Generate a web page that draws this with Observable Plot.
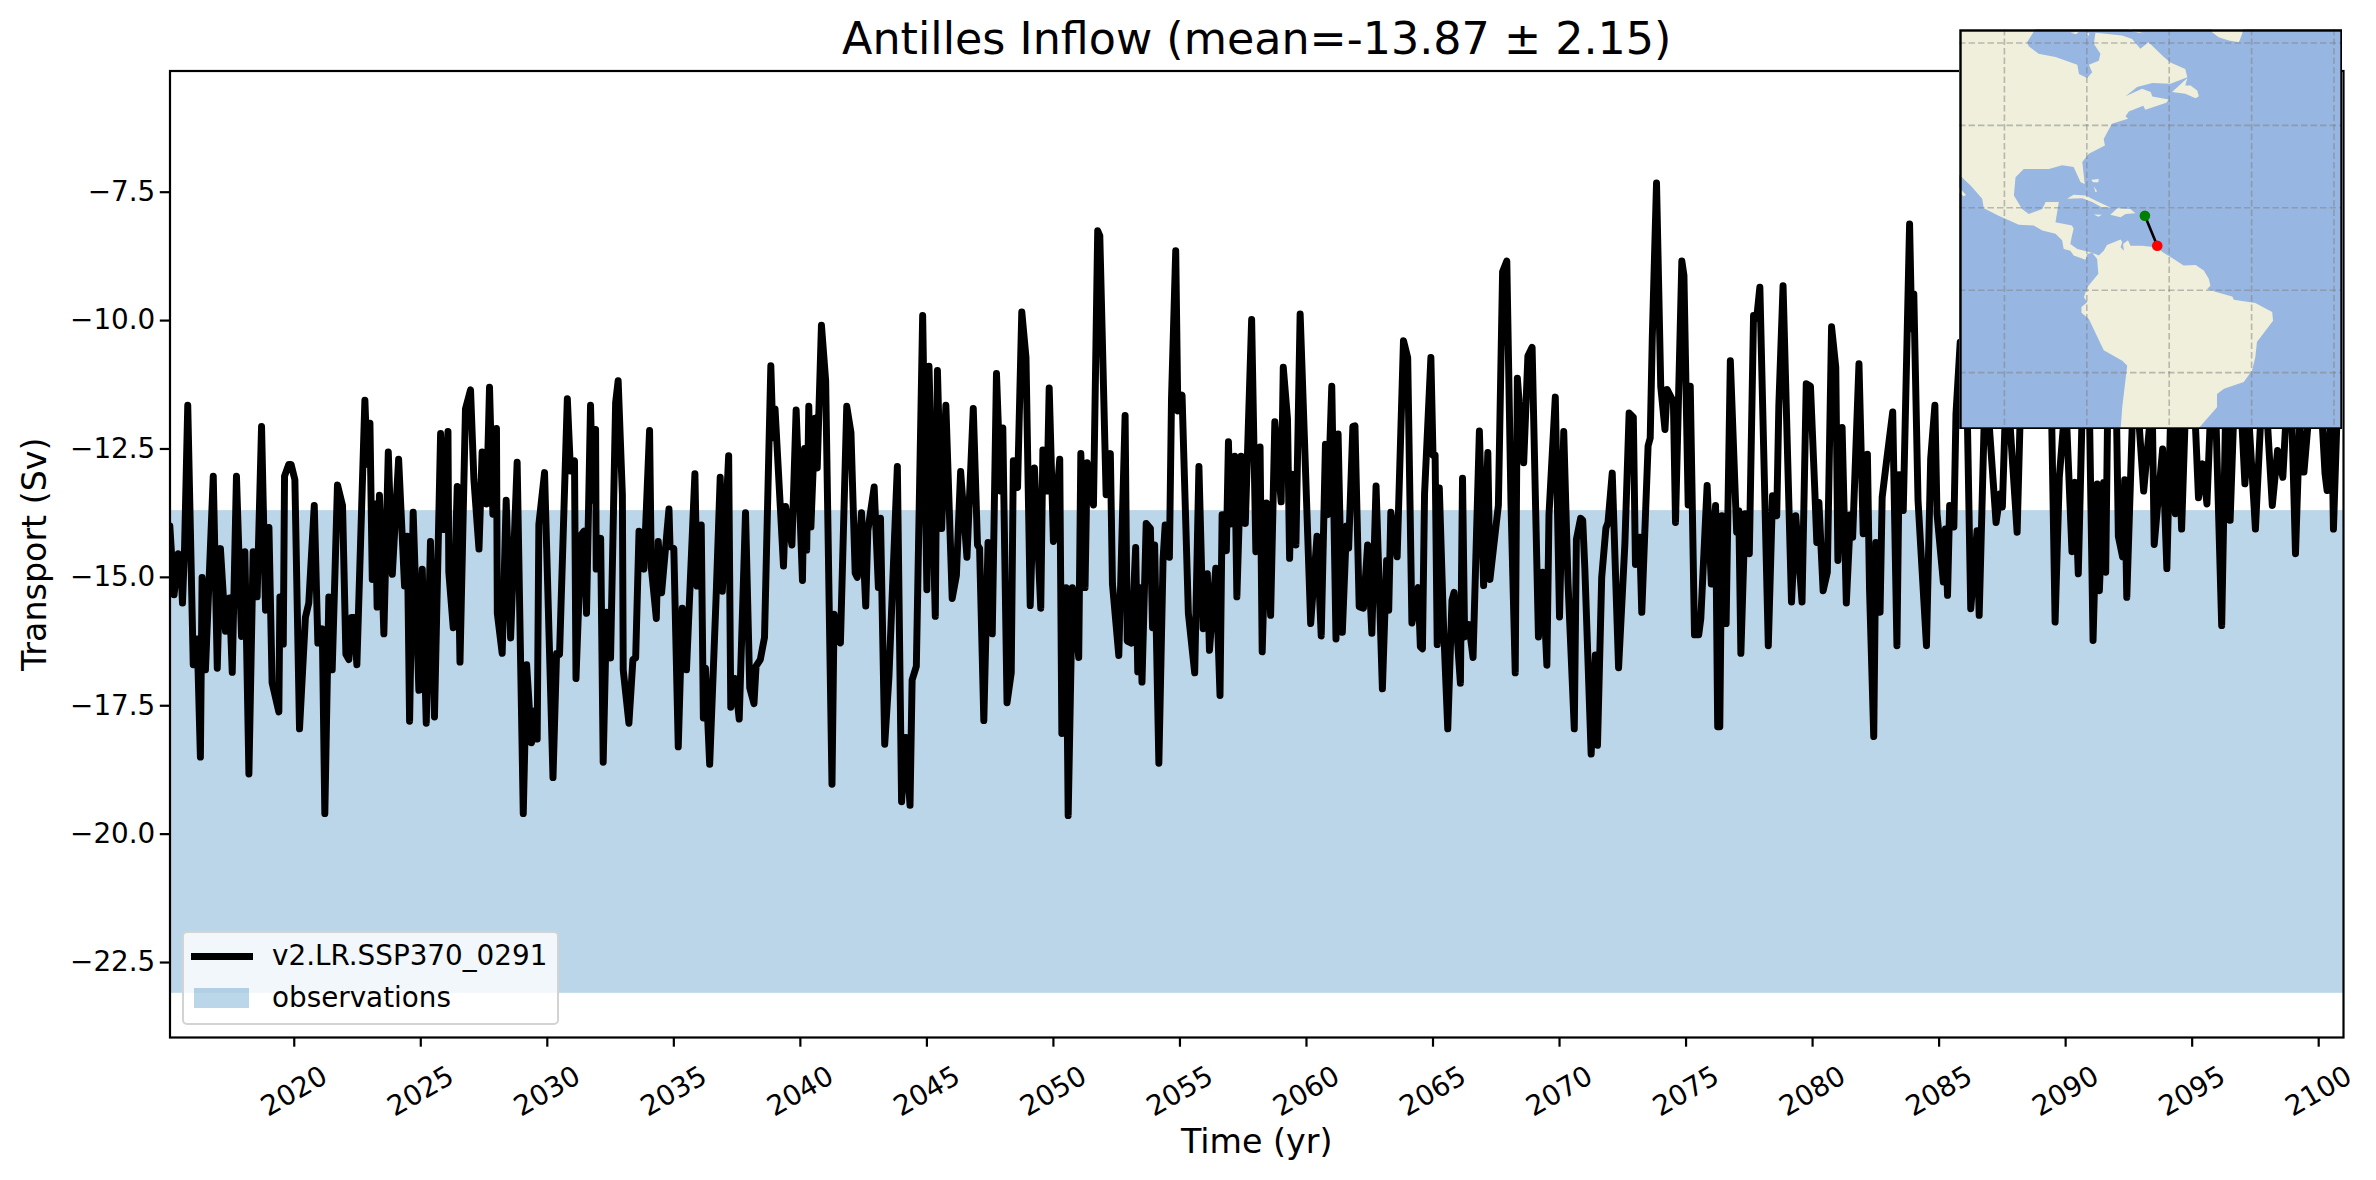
<!DOCTYPE html>
<html><head><meta charset="utf-8">
<script src="https://cdn.jsdelivr.net/npm/d3@7"></script>
<script src="https://cdn.jsdelivr.net/npm/@observablehq/plot@0.6"></script>
<style>
html,body{margin:0;padding:0;background:#fff;overflow:hidden}
#stage{position:relative;width:2376px;height:1180px;font-family:"DejaVu Sans",sans-serif;color:#000}
#stage>div.plot{position:absolute}
#main{left:0;top:0}
#inset{left:1959px;top:29px}
#legend{position:absolute;left:182px;top:931px;width:373px;height:90px;background:rgba(255,255,255,.8);border:2px solid #d3d3d3;border-radius:5px;font-size:27.8px;line-height:1}
#legend .l{position:absolute;left:7px;top:20px;width:62px;height:7px;background:#000}
#legend .p{position:absolute;left:10px;top:55px;width:55px;height:20px;background:#1f77b4;opacity:.3}
#legend .t1{position:absolute;left:88px;top:9px;white-space:nowrap}
#legend .t2{position:absolute;left:88px;top:51px;white-space:nowrap}
</style></head><body>
<div id="stage">
  <div class="plot" id="main"></div>
  <div id="legend"><div class="l"></div><div class="p"></div><div class="t1">v2.LR.SSP370_0291</div><div class="t2">observations</div></div>
  <div class="plot" id="inset"></div>
</div>
<script>
const titleText = "Antilles Inflow (mean=-13.87 ± 2.15)";
const xLabel = "Time (yr)";
const yLabel = "Transport (Sv)";
const xTicks = [2020,2025,2030,2035,2040,2045,2050,2055,2060,2065,2070,2075,2080,2085,2090,2095,2100];
const yTicks = [-7.5,-10,-12.5,-15,-17.5,-20,-22.5];
const obsRange = [-23.1,-13.7];
const xDomain = [2015.09,2100.98];
const yDomain = [-23.96,-5.14];

// [months since start of record, transport in Sv]
const part2015 = [[0,-14],[2,-15.34],[4,-14.54],[5,-14.6],[6,-15.5],[7,-14.4],[8.5,-11.65],[11.1,-16.7],[13,-16.2],[14.5,-18.5],[15.3,-15],[16.9,-16.8],[20.6,-13.03],[22.5,-16.77],[24,-14.44],[26.4,-16.05],[28.3,-15.4],[29.6,-16.85],[31.6,-13.03],[34,-16.15],[35.6,-14.5],[37.5,-18.83],[39.5,-14.5],[41.4,-15.38],[43.5,-12.06],[45.4,-15.64],[47,-14.03],[48.5,-17.05],[51.7,-17.62],[52.2,-15.38],[53.8,-16.3],[54.4,-13.03],[56.4,-12.8],[57.5,-12.8],[59.3,-13.1],[61.5,-17.95],[64.3,-15.78],[65.9,-15.5],[68.5,-13.6],[70.2,-16.28],[72.3,-16],[73.5,-19.6],[75.4,-15.38],[77,-16.8],[79.5,-13.2],[81.9,-13.6],[83.5,-16.5],[84.9,-16.6],[86.2,-15.78],[87.3,-15.78],[88.7,-16.7],[92.5,-11.55],[93.6,-12.8],[94.9,-12],[96,-15.04],[97.5,-13.57],[98.3,-15.58],[99.4,-13.4],[101.5,-16.1],[103.6,-12.56],[105.5,-14.94],[108.5,-12.7],[111.3,-15.17],[112.6,-14.2],[113.7,-17.8],[115.4,-13.73],[118.1,-17.2],[119.7,-14.84],[121.6,-17.84],[123.6,-14.3],[125.5,-17.72],[128.4,-12.2],[130,-14.07],[131.9,-12.16],[132.3,-14.9],[134.4,-15.98],[136.3,-13.23],[137.6,-16.65],[140.2,-11.72],[142.6,-11.35],[144.2,-13.1],[146.6,-14.45],[148.1,-12.56],[150.2,-13.57],[151.6,-11.3],[153.2,-13.77],[154.9,-12.1],[155.3,-15.7],[157.6,-16.48],[159.5,-13.5],[161.6,-16.18],[164.7,-12.76],[167.6,-19.6],[169.2,-16.7],[171.5,-18.22],[172.7,-17.6],[174.2,-18.15],[175,-13.97],[177.7,-12.96],[181.7,-18.9],[183.4,-16.48],[184.8,-16.5],[188.5,-11.52],[190,-12.93],[191.9,-12.73],[192.6,-16.97],[195.1,-14.17],[196.4,-14.1],[197.6,-15.7],[199.5,-11.65],[200.6,-13.5],[201.9,-12.12],[202.2,-14.84],[204.3,-14.24],[205.5,-18.6],[207.1,-15.68],[209,-16.57],[211.4,-11.6],[212.6,-11.17],[214.6,-13.4],[215,-16.8],[217.7,-17.84],[219.6,-16.6],[220.9,-16.57],[222.5,-14.1],[224.8,-14.84],[227.5,-12.14],[228.3,-14.8],[230.7,-15.8],[231.6,-14.3],[233.2,-15.3],[236.7,-13.67],[237.2,-14.4],[239,-14.44],[241.1,-18.3]];
const part2035 = [[243,-15.6],[245,-16.8],[249,-12.98],[250,-15.17],[252,-13.98],[253,-17.74],[254,-16.77],[256,-18.64],[259,-15.44],[261,-13.05],[262,-15.27],[265,-12.63],[266,-17.53],[268,-16.97],[270,-17.76],[273,-13.74],[275,-17.15],[277,-17.46],[278,-16.73],[280,-16.6],[282,-16.17],[285,-10.88],[286,-12.28],[287,-11.72],[291,-14.78],[292,-13.62],[295,-14.37],[297,-11.74],[300,-15.06],[301,-12.49],[302,-14.47],[303,-11.67],[304,-14.02],[306,-11.9],[307,-12.87],[309,-10.09],[311,-11.17],[314,-19.03],[315,-15.72],[318,-16.28],[321,-11.67],[323,-12.18],[325,-14.92],[326,-15],[328,-13.74],[330,-15.56],[331,-14.09],[334,-13.24],[336,-15.2],[337,-13.85],[339,-18.25],[341,-16.94],[345,-12.84],[347,-19.37],[349,-18.12],[351,-19.44],[352,-17],[354,-16.73],[357,-9.9],[359,-15.24],[360,-10.89],[363,-15.76],[364,-10.97],[366,-14.05],[368,-11.65],[371,-15.41],[373,-14.96],[375,-12.94],[378,-14.61],[381,-11.71],[383,-14.37],[384,-14.44],[386,-17.79],[388,-14.32],[390,-16.1],[392,-11.03],[394,-13.32],[395,-12.09],[397,-17.44],[399,-16.86],[400,-12.73],[402,-13.25],[404,-9.83],[406,-10.72],[408,-15.55],[410,-12.87],[413,-15.6],[414,-12.52],[416,-13.32],[417,-11.31],[419,-14.3],[422,-12.7],[423,-18.04],[425,-15.2],[426,-19.64],[428,-15.2],[431,-16.56],[432,-12.59],[434,-15.2],[435,-12.77],[438,-13.59],[440,-8.25],[441,-8.35],[444,-13.39],[446,-12.59],[447,-15.13],[450,-16.52],[453,-11.85],[454,-16.24],[456,-16.28],[458,-14.42],[459,-16.84],[460,-15.2],[461,-17.04],[463,-13.95],[465,-14.05],[466,-15.98],[467,-14.37],[469,-18.62],[471,-14.64],[472,-13.98],[474,-14.61],[475,-11.52],[477,-8.64],[478,-11.76],[480,-11.45],[483,-15.7],[486,-16.86],[488,-12.84]];
const part2055 = [[490,-16],[492,-14.93],[493,-16.42],[496,-14.82],[498,-17.3],[499,-13.78],[501,-14.48],[502,-12.36],[503,-13.96],[505,-12.64],[506,-15.38],[508,-12.64],[510,-13.95],[513,-9.98],[515,-14.5],[517,-12.46],[518,-16.45],[520,-13.55],[522,-15.74],[524,-11.97],[527,-13.53],[528,-10.91],[530,-11.91],[531,-14.63],[532,-12.99],[534,-14.37],[536,-9.87],[538,-12.25],[541,-15.9],[544,-14.2],[546,-16.14],[548,-12.41],[549,-13.78],[551,-11.28],[553,-16.2],[554,-12.21],[556,-16.07],[558,-14],[559,-14.43],[561,-12.06],[562,-12.05],[564,-15.57],[566,-15.6],[568,-14.37],[570,-16.09],[572,-13.22],[575,-17.17],[577,-14.67],[578,-15.64],[579,-13.73],[582,-14.6],[585,-10.39],[587,-10.72],[589,-15.89],[592,-15.2],[593,-16.35],[594,-16.39],[595,-13.37],[598,-10.72],[599,-12.62],[600,-12.62],[601,-16.31],[602,-13.26],[604,-15.94],[606,-17.95],[608,-15.45],[609,-15.29],[612,-17.06],[613,-13.07],[614,-16.16],[616,-15.92],[618,-16.56],[621,-12.15],[623,-15.16],[625,-12.57],[626,-15.04],[629,-13.96],[630,-13.6],[632,-9.05],[634,-8.84],[636,-13.59],[638,-16.86],[639,-11.12],[642,-12.77],[644,-10.69],[646,-10.52],[649,-16.16],[651,-14.9],[653,-16.71],[654,-13.78],[657,-11.49],[659,-15.77],[661,-12.16],[663,-15.08],[666,-17.95],[667,-14.26],[669,-13.85],[670,-13.89],[671,-14.82],[674,-18.44],[676,-16.51],[677,-18.27],[679,-15],[681,-14.04],[682,-13.93],[684,-12.97],[687,-16.76],[690,-14.34],[692,-11.8],[694,-11.88],[695,-14.75],[697,-14.22],[698,-15.68],[701,-12.44],[702,-12.29],[703,-10.31],[705,-7.32],[707,-11.28],[709,-12.12],[710,-11.34],[713,-11.58],[714,-13.93],[717,-8.84],[718,-9.12],[720,-13.59],[721,-11.28],[723,-16.12],[725,-16.12],[726,-15.8],[729,-13.21]];
const part2075 = [[731,-15.13],[733,-13.6],[734,-17.91],[735,-17.91],[736,-13.8],[738,-15.9],[740,-10.78],[743,-14.12],[744,-13.7],[745,-16.48],[747,-13.76],[749,-14.54],[751,-9.9],[752.5,-9.95],[754,-9.35],[758,-16.33],[760,-13.41],[762,-13.8],[763,-11.65],[765,-9.32],[769,-15.48],[771,-13.8],[774,-15.48],[776,-11.23],[778,-11.28],[780,-13.25],[781,-14.32],[782,-13.54],[784,-15.26],[786,-14.9],[788,-10.12],[790,-10.91],[791,-14.67],[793,-12.08],[795,-15.5],[797,-13.78],[798,-14.22],[801,-10.84],[803,-14.15],[805,-12.6],[806,-15.22],[808,-18.1],[809,-14.32],[811,-15.68],[812,-13.44],[814,-12.76],[817,-11.78],[819,-16.33],[820,-13],[822,-13.7],[825,-8.12],[826,-10.16],[827,-9.48],[829,-13.5],[833,-16.33],[835,-12.69],[837,-11.65],[838,-13.76],[841,-15.09],[842,-14.06],[843,-15.35],[844,-13.6],[846,-14.02],[847,-11.82],[849,-10.42],[852,-11],[854,-15.61],[857,-14.09],[858,-15.74],[861,-11],[866,-13.93],[868,-13.37],[869,-13.63],[871,-11],[876,-14.12],[878,-11],[885,-11],[892,-11],[894,-15.87],[896,-13.05],[899,-11.5],[902,-14.5],[903.5,-13.15],[905,-14.93],[907,-11.5],[910,-11],[912,-16.23],[914,-13.18],[915,-15.26],[917,-13.15],[918,-14.9],[919,-11.5],[923,-11.5],[924,-14.2],[926,-14.6],[927,-13.1],[928,-15.39],[931,-11.5],[933,-11.5],[936,-13.32],[940,-11.5],[941,-14.36],[945,-12.5],[947,-14.83],[949,-11.5],[951,-13.76],[952,-11.5],[954,-14.06],[956,-11.5],[960,-11.5],[962,-13.45],[964,-12.79],[966,-13.57],[968,-11.5],[970,-11.5],[973,-15.94],[975,-11.5],[977,-13.89],[979,-11.5],[982,-11.5],[984,-13.18],[986,-12],[989,-14.06],[992,-11.5],[994,-11.5],[997,-13.6],[999.5,-12.53],[1002,-13.05],[1004,-11.5],[1006,-11.5],[1008,-14.54],[1010,-12],[1012,-12.95],[1015,-11.5],[1020,-11.5],[1022,-12.98],[1023,-13.31],[1025,-11.5],[1026,-14.06],[1028,-11.5]];

// Inset map: [lon, lat] outlines
const landAmericas = [[-112,64],[-92.1,64],[-94.5,60.2],[-94.1,59.2],[-91.7,57.4],[-87.6,56.6],[-82.3,54.7],[-81.9,52.5],[-79.9,51.5],[-78.7,52.9],[-79.5,54.7],[-77.1,55.7],[-76.7,57.4],[-78.3,59.8],[-77.9,62.5],[-71.4,61.8],[-69,61],[-67,58.6],[-65,60.2],[-61.3,56.6],[-59.7,55.3],[-56.1,53.7],[-55.6,51.7],[-59.7,50.1],[-64.1,50.3],[-67.8,49.3],[-70.6,47.1],[-66.6,48.9],[-64.5,48.1],[-64.1,47],[-60.1,46.3],[-60.7,45.5],[-65.8,43.8],[-66.3,44.8],[-69.8,43.4],[-70.6,42.2],[-70,41.6],[-73.9,40.4],[-75.9,36.7],[-75.6,35.1],[-79.5,33.1],[-81.1,31.1],[-80.5,25.8],[-81.5,26.2],[-83.2,29.9],[-86,30.3],[-89.2,29.4],[-95.3,29.4],[-97.3,27.4],[-97.7,23],[-95.7,19.7],[-94.1,18.5],[-90.8,19.7],[-90,21.4],[-86.8,21.4],[-87.6,16.5],[-83.6,15.7],[-83.2,14.9],[-83.6,13.3],[-84,11.2],[-82.3,10],[-79.9,9.4],[-77.9,8.8],[-77.1,8.4],[-75.9,9.6],[-75.1,11],[-71.8,12.3],[-71.4,11.7],[-71.8,10.4],[-71,9.6],[-71.2,11.2],[-70,12.1],[-69.4,10.8],[-66.6,10.8],[-63.3,10.4],[-60.9,8.8],[-58.9,7.6],[-56.5,6],[-53.6,6.1],[-51.6,4.8],[-50.4,2.8],[-50,1.1],[-50.8,0.3],[-48.4,-0.5],[-44.7,-1.5],[-44.3,-2.3],[-39.1,-3.1],[-35,-5.3],[-34.8,-7.4],[-38.7,-12.6],[-39.1,-16.3],[-39.9,-19.5],[-41.9,-22.3],[-46.7,-23.9],[-48.4,-25.2],[-48.4,-28.4],[-53.2,-33.9],[-54,-35],[-71.5,-35],[-71.8,-33.9],[-71.4,-28.4],[-70.2,-18.3],[-71.4,-17.1],[-75.9,-14.6],[-79.5,-7],[-81.3,-5.5],[-81.3,-4.1],[-79.9,-2.9],[-80.7,-1.7],[-79.9,0.7],[-77.2,4],[-77.5,7.6],[-78.7,9.1],[-79.9,8.8],[-80.3,7.4],[-83.2,8.4],[-84,9.6],[-85.6,10],[-86,12.1],[-87.6,13.7],[-90.8,14.5],[-92.9,15.7],[-96.5,15.9],[-101.4,18.1],[-105,19.9],[-105.4,22.2],[-108.2,25.4],[-110.7,27.8],[-112,29]];
const landCuba = [[-84.8,22.2],[-83.2,23.2],[-80.3,23],[-77.9,21.8],[-74.3,20.1],[-76.3,20.1],[-78.7,21.4],[-81.1,22.3]];
const landHispaniola = [[-74.3,18.3],[-72.6,19.9],[-69.4,19.7],[-68.2,18.7],[-70.6,18.5],[-71.8,17.7]];
const landJamaica = [[-78.3,18.4],[-76.3,18.3],[-77.2,17.8]];
const landBahamasA = [[-78.9,26.8],[-77.1,27],[-77.2,26.2],[-78.5,26.2]];
const landBahamasB = [[-78.3,25.2],[-77.5,24],[-77.9,23.8]];
const landNewfoundland = [[-59.3,48.1],[-55.6,51.5],[-56.1,49.7],[-54.8,49.7],[-53.2,48.5],[-52.8,47.1],[-53.6,46.6],[-56.1,47.7]];
const landGreenland = [[-50,64],[-42,64],[-42.3,62.2],[-43.1,60.2],[-45.5,60.6],[-48,61.4],[-49.6,62.6]];
const landBaja = [[-112,26],[-110.7,24.6],[-109.3,23.1],[-109.9,22.8],[-112,24.5]];
const landArcticA = [[-84,62.5],[-81.9,62.8],[-82.6,62.1]];
const landArcticB = [[-80.3,62.3],[-79.4,62.5],[-79.5,61.7]];
const landBaffin = [[-71,64],[-66.2,62.3],[-69,62.8]];
const gridLon = [-100,-80,-60,-40,-20];
const gridLat = [60,40,20,0,-20];
const sectionStart = [-65.9,18.06];
const sectionEnd = [-62.9,10.8];
const lonDomain = [-110.9,-17.94];
const latDomain = [-33.81,63.28];

const toYear = m => 2015.083 + m/12;
const series = [...part2015,...part2035,...part2055,...part2075].map(([m,v])=>({time:toYear(m),transport:v}));
const font = "DejaVu Sans";
const tickFont = 27.8;

const main = Plot.plot({
  width:2376, height:1180,
  marginLeft:169.5, marginRight:33, marginTop:70.5, marginBottom:143,
  style:{fontFamily:font, background:"transparent", color:"#000"},
  x:{domain:xDomain, label:null, axis:null},
  y:{domain:yDomain, label:null, axis:null},
  marks:[
    Plot.rect([obsRange],{x1:xDomain[0],x2:xDomain[1],y1:d=>d[0],y2:d=>d[1],fill:"#1f77b4",fillOpacity:.3}),
    Plot.line(series,{x:"time",y:"transport",stroke:"#000",strokeWidth:6.95,strokeLinejoin:"round",strokeLinecap:"round",clip:true}),
    Plot.frame({stroke:"#000",strokeWidth:2.2}),
    Plot.axisY({ticks:yTicks,tickSize:9.7,strokeWidth:2.2,tickPadding:5,fontSize:tickFont,label:null,tickFormat:d3.format(".1f")}),
    Plot.axisX({ticks:xTicks,tickSize:9.7,strokeWidth:2.2,text:null,label:null}),
    Plot.text(xTicks,{x:d=>d,frameAnchor:"bottom",dy:54,rotate:-30,text:d=>String(d),fontSize:tickFont,lineAnchor:"middle",textAnchor:"middle"}),
    Plot.text([xLabel],{frameAnchor:"bottom",dy:105,fontSize:33.3,lineAnchor:"middle"}),
    Plot.text([yLabel],{frameAnchor:"left",dx:-135,rotate:-90,fontSize:33.3,lineAnchor:"middle",textAnchor:"middle"}),
    Plot.text([titleText],{frameAnchor:"top",dy:-31,fontSize:44.4,lineAnchor:"middle"})
  ]
});
document.getElementById("main").append(main);

const polygons = [landAmericas,landCuba,landHispaniola,landJamaica,landBahamasA,landBahamasB,landNewfoundland,landGreenland,landBaja,landArcticA,landArcticB,landBaffin]
  .flatMap((pts,id)=>pts.map(([lon,lat])=>({lon,lat,id})));
const section = [sectionStart,sectionEnd];
const grid = {stroke:"#808080",strokeOpacity:.5,strokeWidth:1.6,strokeDasharray:"6.5,3"};
const inset = Plot.plot({
  width:383, height:400, margin:0,
  style:{background:"#97b6e1",display:"block"},
  x:{domain:lonDomain,axis:null,label:null},
  y:{domain:latDomain,axis:null,label:null},
  marks:[
    Plot.line(polygons,{x:"lon",y:"lat",z:"id",fill:"#efefdb",stroke:"none",clip:true}),
    Plot.ruleX(gridLon,{...grid}),
    Plot.ruleY(gridLat,{...grid}),
    Plot.line(section,{x:d=>d[0],y:d=>d[1],stroke:"#000",strokeWidth:2.6}),
    Plot.dot([sectionStart],{x:d=>d[0],y:d=>d[1],r:5.3,fill:"green",stroke:"none"}),
    Plot.dot([sectionEnd],{x:d=>d[0],y:d=>d[1],r:5.3,fill:"red",stroke:"none"}),
    Plot.frame({stroke:"#000",strokeWidth:2.4,inset:1})
  ]
});
document.getElementById("inset").append(inset);
</script>
</body></html>
